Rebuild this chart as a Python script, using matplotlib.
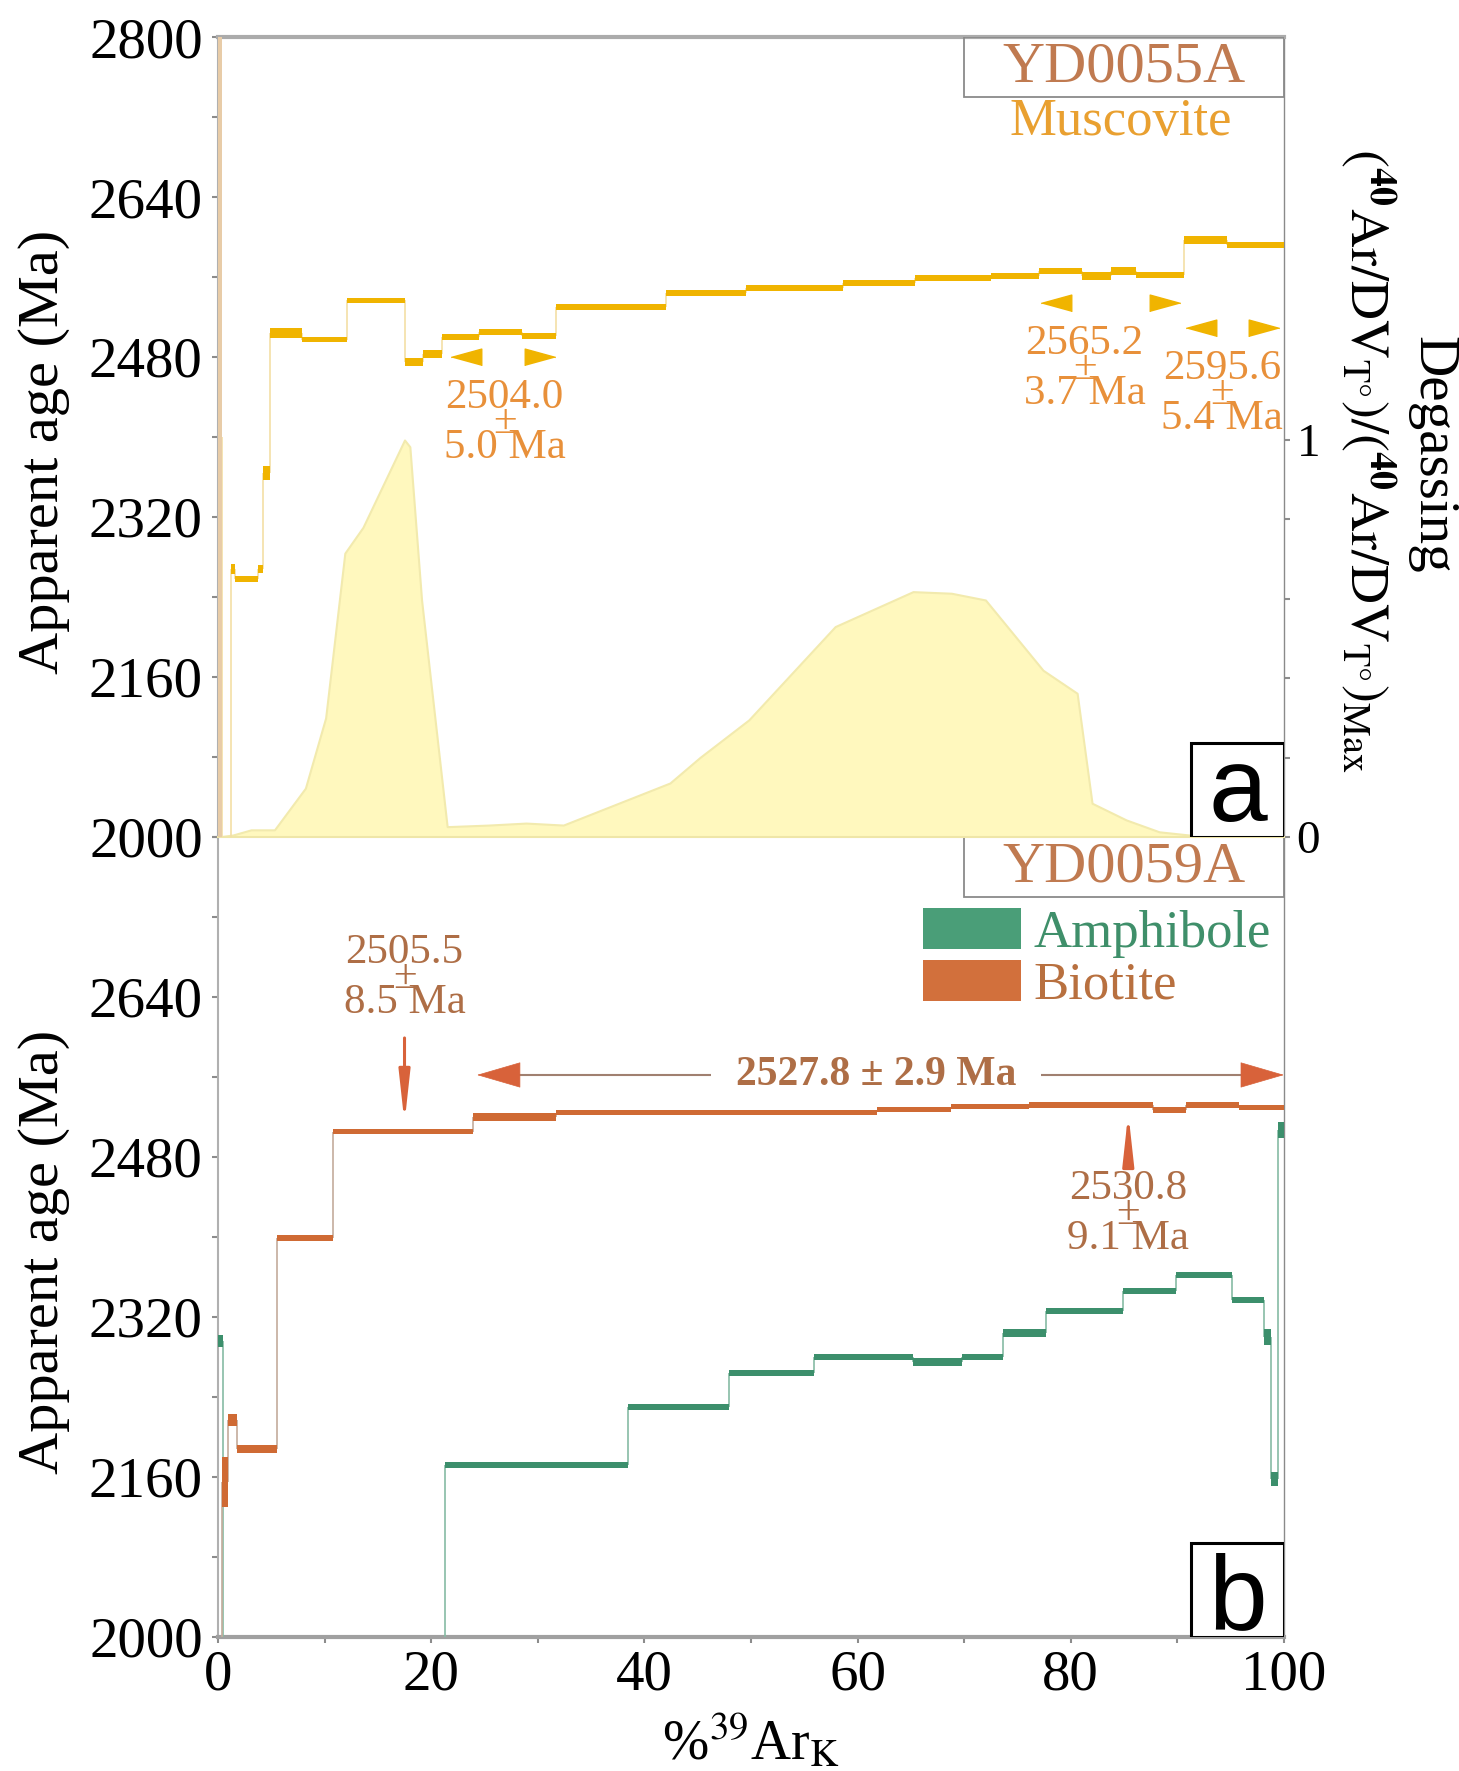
#!/usr/bin/env python3
# Ar/Ar age spectra: (a) YD0055A muscovite with degassing curve,
# (b) YD0059A amphibole + biotite.  Saves out.png (1459x1771 px).

import matplotlib
matplotlib.use("Agg")
import matplotlib.pyplot as plt
from matplotlib.patches import Patch, Rectangle
from matplotlib.ticker import FixedLocator, FuncFormatter, MultipleLocator

plt.rcParams["font.family"] = ["Liberation Serif", "DejaVu Serif"]
plt.rcParams["mathtext.fontset"] = "stix"

# ---- panel a: YD0055A muscovite (step edges in %39ArK, age and error in Ma)
MUS_EDGES = [0.0, 0.4, 1.2, 1.6, 3.8, 4.2, 4.9, 7.9, 12.1, 17.5, 19.2, 21.0,
             24.5, 28.5, 31.7, 42.0, 49.5, 58.6, 65.4, 72.5, 77.0, 81.1,
             83.8, 86.1, 90.6, 94.7, 100.0]
MUS_AGE = [2400, 1950, 2268, 2258, 2268, 2364, 2504, 2497, 2537, 2475, 2483,
           2500, 2505, 2501, 2530, 2544, 2549, 2554, 2559, 2561, 2566, 2561,
           2566, 2562, 2597, 2592]
MUS_ERR = [450, 5, 5, 3, 4, 7, 5, 2.5, 2.5, 4, 4, 3, 3, 3, 3, 3, 3, 3, 3, 3,
           3, 4, 4, 3, 4, 3]

# degassing curve (right axis, normalised to max)
DEG_X = [0, 1.4, 3.1, 5.3, 8.2, 10.1, 11.9, 13.6, 17.5, 18.0, 19.1, 21.5,
         25.4, 28.9, 32.4, 42.4, 45.2, 49.8, 57.9, 65.2, 68.8, 72.0, 77.4,
         80.6, 82.0, 85.2, 88.3, 91.1, 100]
DEG_Y = [0, 0.005, 0.018, 0.018, 0.123, 0.30, 0.715, 0.78, 1.0, 0.983, 0.597,
         0.026, 0.030, 0.035, 0.030, 0.136, 0.20, 0.295, 0.53, 0.618, 0.614,
         0.597, 0.42, 0.362, 0.085, 0.043, 0.013, 0.005, 0]

# segments marked with triangles: (age, error, x_left, x_right, y, text x)
MUS_MARKS = [("2504.0", "5.0 Ma", 23.3, 30.2, 2480, 26.9),
             ("2565.2", "3.7 Ma", 78.6, 88.8, 2534, 81.3),
             ("2595.6", "5.4 Ma", 92.2, 98.1, 2509, 94.2)]

# ---- panel b: YD0059A biotite and amphibole
BIO_EDGES = [0.0, 0.35, 0.9, 1.8, 5.5, 10.8, 23.9, 31.7, 61.8, 68.8, 76.1,
             87.7, 90.8, 95.8, 100.0]
BIO_AGE = [1900, 2155, 2217, 2188, 2399, 2505, 2520, 2524, 2527, 2530, 2532,
           2527, 2532, 2529]
BIO_ERR = [5, 25, 6, 4, 3, 2.5, 4, 2.5, 2.5, 2.5, 3, 3, 3, 2.5]

AMP_EDGES = [0.0, 0.5, 21.3, 38.5, 47.9, 55.9, 65.2, 69.8, 73.6, 77.7, 84.9,
             89.9, 95.1, 98.1, 98.8, 99.4, 100.0]
AMP_AGE = [2296, 1900, 2172, 2230, 2264, 2280, 2275, 2280, 2304, 2326, 2346,
           2362, 2337, 2300, 2158, 2507]
AMP_ERR = [6, 5, 3, 3, 3, 3, 4, 3, 4, 3, 3, 3, 3, 8, 7, 8]

# plateau age of biotite: (label, x_start, x_end, y)
BIO_PLATEAU = ("2527.8 \u00b1 2.9 Ma", 24.3, 100.0, 2562)
# single-step ages: (age, error, x, arrow tail, arrow tip, text y)
BIO_STEPS = [("2505.5", "8.5 Ma", 17.5, 2599, 2514, 2685),
             ("2530.8", "9.1 Ma", 85.4, 2475, 2524, 2449)]

Y_TICKS = list(range(2000, 2801, 160))
X_TICKS = list(range(0, 101, 20))

# colours
MUS_COLOR = "#F0B400"
MUS_FIRST = "#E8CCA8"
MUS_CONN = "#F3DFA6"
DEG_FILL = "#FFF8BE"
DEG_EDGE = "#F2EAAE"
MUS_TEXT = "#E8903A"
BIO_COLOR = "#CF6A34"
BIO_CONN = "#C4AC9C"
AMP_COLOR = "#3C8F6C"
AMP_CONN = "#86BBA4"
BIO_TEXT = "#AE6E46"
ARROW_COLOR = "#D8623A"
NAME_COLOR = "#C07A50"

TICK_FS = 41
LABEL_FS = 42

DEG_LABEL = (r"$(^{\mathbf{40}}\mathrm{Ar/DV}_{\mathrm{T°}})/"
             r"(^{\mathbf{40}}\mathrm{Ar/DV}_{\mathrm{T°}})"
             r"_{\mathrm{Max}}$")


def draw_steps(ax, edges, ages, errs, color, conn_color, first_color=None):
    lefts = edges[:-1]
    widths = [b - a for a, b in zip(edges[:-1], edges[1:])]
    bottoms = [a - e for a, e in zip(ages, errs)]
    heights = [2 * e for e in errs]
    colors = [color] * len(ages)
    if first_color:
        colors[0] = first_color
    ax.vlines(edges[1:-1], ages[:-1], ages[1:], colors=conn_color, lw=1.2,
              zorder=3)
    ax.bar(lefts, heights, widths, bottom=bottoms, align="edge",
           color=colors, linewidth=0, zorder=4)


def style_age_axis(ax, hide_top_label=False):
    ax.set_xlim(0, 100)
    ax.set_ylim(2000, 2800)
    ax.yaxis.set_major_locator(FixedLocator(Y_TICKS))
    ax.yaxis.set_minor_locator(MultipleLocator(80))
    if hide_top_label:
        ax.yaxis.set_major_formatter(
            FuncFormatter(lambda v, _: "" if v >= 2800 else f"{v:.0f}"))
    ax.tick_params(axis="y", which="both", direction="out", length=4,
                   width=1.5, color="#8c8c8c", labelsize=TICK_FS, pad=7)
    ax.set_ylabel("Apparent age (Ma)", fontsize=LABEL_FS)
    ax.yaxis.set_label_coords(-0.139, 0.481)
    ax.spines["left"].set_color("#b0b0b0")
    ax.spines["left"].set_linewidth(1.5)
    ax.spines["right"].set_color("#8a8a8a")
    ax.spines["right"].set_linewidth(1.0)


def sample_box(ax, name, color):
    ax.add_patch(Rectangle((0.70, 0.925), 0.30, 0.075, transform=ax.transAxes,
                           fill=False, edgecolor="#8a8a8a", lw=1.3, zorder=6))
    ax.text(0.85, 0.962, name, transform=ax.transAxes, ha="center",
            va="center", fontsize=42, color=color, zorder=7)


def panel_letter(ax, letter, baseline):
    ax.add_patch(Rectangle((0.913, 0.0), 0.087, 0.118, transform=ax.transAxes,
                           facecolor="white", edgecolor="black", lw=2.2,
                           zorder=8))
    ax.text(0.9565, baseline, letter, transform=ax.transAxes, ha="center",
            va="baseline", fontsize=76, family=["Liberation Sans"], zorder=9)


def age_label(ax, x, y, age, err, color):
    # value / "±" / error stacked tightly, "±" squeezed between the lines
    ax.text(x, y - 26, f"{age}\n\u00b1\n{err}", ha="center", va="center",
            multialignment="center", linespacing=0.55, fontsize=31,
            color=color, zorder=7)


def main():
    fig = plt.figure(figsize=(14.59, 17.71), dpi=100)
    ax_a = fig.add_axes([0.1494, 0.5274, 0.7306, 0.4517])
    ax_b = fig.add_axes([0.1494, 0.0757, 0.7306, 0.4517])

    # ---------------- panel a ----------------
    ax_deg = ax_a.twinx()
    ax_deg.fill_between(DEG_X, DEG_Y, color=DEG_FILL, edgecolor=DEG_EDGE,
                        lw=1.5)
    ax_deg.set_ylim(0, 800 / 397)
    ax_deg.yaxis.set_major_locator(FixedLocator([0, 1]))
    ax_deg.yaxis.set_minor_locator(FixedLocator([0.2, 0.4, 0.6, 0.8]))
    ax_deg.tick_params(axis="y", which="both", direction="out", length=4,
                       width=1.5, color="#8c8c8c", labelsize=34, pad=5)
    for side in ("top", "left", "bottom", "right"):
        ax_deg.spines[side].set_visible(False)
    ax_a.set_zorder(ax_deg.get_zorder() + 1)
    ax_a.patch.set_visible(False)

    draw_steps(ax_a, MUS_EDGES, MUS_AGE, MUS_ERR, MUS_COLOR, MUS_CONN,
               first_color=MUS_FIRST)
    style_age_axis(ax_a)
    ax_a.tick_params(axis="x", bottom=False, labelbottom=False)
    ax_a.spines["top"].set_color("#ababab")
    ax_a.spines["top"].set_linewidth(3)
    ax_a.spines["bottom"].set_color("#efe6a8")
    ax_a.spines["bottom"].set_linewidth(1.5)

    tri_left = [(-1, 0), (1, 0.55), (1, -0.55)]
    tri_right = [(1, 0), (-1, 0.55), (-1, -0.55)]
    for age, err, xl, xr, y, xt in MUS_MARKS:
        ax_a.plot([xl], [y], marker=tri_left, ms=22, color=MUS_COLOR,
                  ls="none", zorder=5)
        ax_a.plot([xr], [y], marker=tri_right, ms=22, color=MUS_COLOR,
                  ls="none", zorder=5)
        age_label(ax_a, xt, y - 40, age, err, MUS_TEXT)

    sample_box(ax_a, "YD0055A", NAME_COLOR)
    ax_a.text(0.847, 0.894, "Muscovite", transform=ax_a.transAxes,
              ha="center", va="center", fontsize=38, color="#E9A030")
    panel_letter(ax_a, "a", 0.02)

    ax_a.text(1.139, 0.478, "Degassing", transform=ax_a.transAxes,
              ha="center", va="center", rotation=-90, fontsize=41)
    ax_a.text(1.078, 0.471, DEG_LABEL, transform=ax_a.transAxes,
              ha="center", va="center", rotation=-90, fontsize=39)

    # ---------------- panel b ----------------
    draw_steps(ax_b, AMP_EDGES, AMP_AGE, AMP_ERR, AMP_COLOR, AMP_CONN)
    draw_steps(ax_b, BIO_EDGES, BIO_AGE, BIO_ERR, BIO_COLOR, BIO_CONN)
    style_age_axis(ax_b, hide_top_label=True)
    ax_b.xaxis.set_major_locator(FixedLocator(X_TICKS))
    ax_b.xaxis.set_minor_locator(MultipleLocator(10))
    ax_b.tick_params(axis="x", which="both", direction="out", length=4,
                     width=1.5, color="#8c8c8c", labelsize=TICK_FS, pad=5)
    ax_b.spines["top"].set_visible(False)
    ax_b.spines["bottom"].set_color("#a0a0a0")
    ax_b.spines["bottom"].set_linewidth(3)
    ax_b.set_xlabel(r"%$^{39}$Ar$_{\mathrm{K}}$", fontsize=40, labelpad=8)

    # plateau arrow
    label, x0, x1, y = BIO_PLATEAU
    ax_b.hlines(y, x0 + 2, x1 - 2, colors="#a08070", lw=1.5, zorder=2)
    for tip, tail in ((x0, x0 + 4), (x1, x1 - 4)):
        ax_b.annotate("", xy=(tip, y), xytext=(tail, y),
                      arrowprops=dict(arrowstyle="-|>,head_length=1.2,"
                                      "head_width=0.35",
                                      mutation_scale=25, color=ARROW_COLOR,
                                      lw=0.5, shrinkA=0, shrinkB=0),
                      zorder=5)
    ax_b.text((x0 + x1) / 2 - 0.4, y, label, ha="center", va="center",
              fontsize=30, fontweight="bold", color=BIO_TEXT, zorder=3,
              bbox=dict(boxstyle="square,pad=0.6", fc="white", ec="none"))

    for age, err, x, tail, tip, ty in BIO_STEPS:
        ax_b.annotate("", xy=(x, tip), xytext=(x, tail),
                      arrowprops=dict(arrowstyle="-|>,head_length=1.0,"
                                      "head_width=0.11",
                                      mutation_scale=30, color=ARROW_COLOR,
                                      lw=2.2, shrinkA=0, shrinkB=0),
                      zorder=5)
        age_label(ax_b, x, ty, age, err, BIO_TEXT)

    sample_box(ax_b, "YD0059A", NAME_COLOR)
    handles = [Patch(facecolor="#4A9E78", label="Amphibole"),
               Patch(facecolor="#D2703C", label="Biotite")]
    leg = ax_b.legend(handles=handles, loc="upper left",
                      bbox_to_anchor=(0.661, 0.911), frameon=False,
                      fontsize=38, handlelength=1.87, handleheight=0.8,
                      handletextpad=0.23, labelspacing=0.05, borderpad=0,
                      borderaxespad=0)
    for text, c in zip(leg.get_texts(), ["#3F8F6A", "#B8703F"]):
        text.set_color(c)
    panel_letter(ax_b, "b", 0.01)

    fig.savefig("out.png", dpi=100)
    plt.close(fig)


if __name__ == "__main__":
    main()
